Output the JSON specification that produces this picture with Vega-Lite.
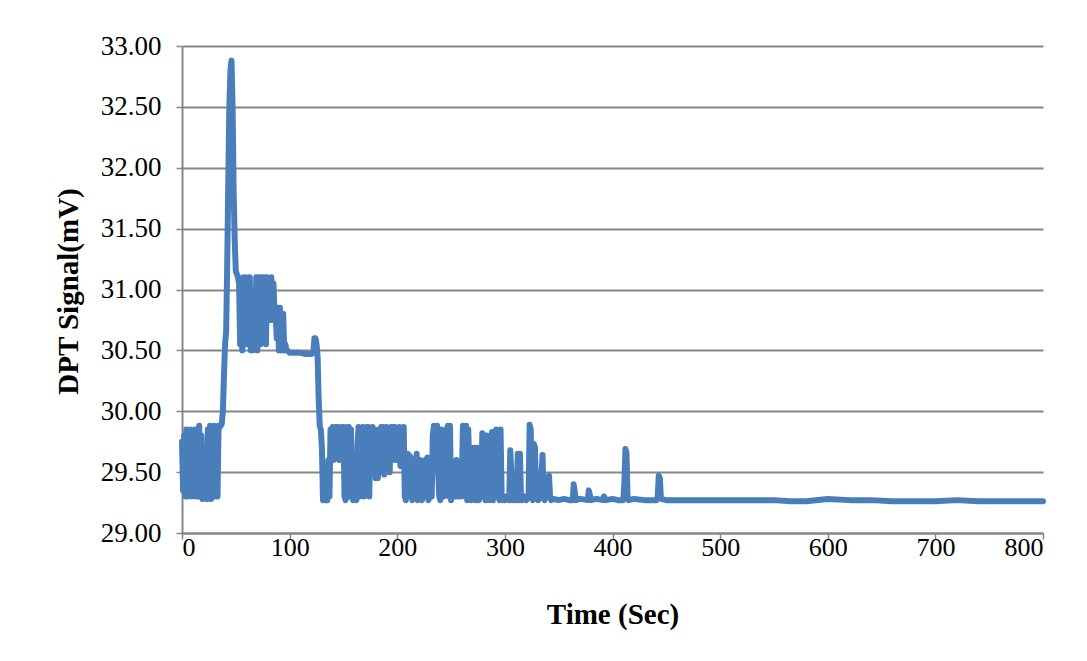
{
  "$schema": "https://vega.github.io/schema/vega-lite/v6.json",
  "width": 861,
  "height": 487,
  "autosize": "none",
  "padding": {"left": 182, "top": 46, "right": 44, "bottom": 128},
  "background": "white",
  "config": {
    "view": {"stroke": null},
    "font": "Liberation Serif"
  },
  "data": {
    "values": [
      {"t":0,"v":29.75},{"t":1,"v":29.35},{"t":2,"v":29.8},{"t":3,"v":29.3},{"t":4,"v":29.85},{"t":5,"v":29.3},{"t":6,"v":29.7},{"t":7,"v":29.35},{"t":8,"v":29.85},{"t":9,"v":29.3},
      {"t":10,"v":29.8},{"t":11,"v":29.4},{"t":12,"v":29.85},{"t":13,"v":29.3},{"t":14,"v":29.6},{"t":15,"v":29.3},{"t":16,"v":29.88},{"t":17,"v":29.3},{"t":18,"v":29.8},{"t":19,"v":29.28},
      {"t":20,"v":29.7},{"t":21,"v":29.35},{"t":22,"v":29.5},{"t":23,"v":29.28},{"t":24,"v":29.85},{"t":25,"v":29.3},{"t":26,"v":29.88},{"t":27,"v":29.28},{"t":28,"v":29.8},{"t":29,"v":29.35},
      {"t":30,"v":29.88},{"t":31,"v":29.3},{"t":32,"v":29.85},{"t":33,"v":29.3},{"t":34,"v":29.88},{"t":35,"v":29.87},{"t":36,"v":29.88},{"t":37,"v":29.9},{"t":38,"v":30.0},{"t":39,"v":30.3},
      {"t":40,"v":30.55},{"t":41,"v":30.65},{"t":42,"v":31.2},{"t":43,"v":31.9},{"t":44,"v":32.5},{"t":45,"v":32.8},{"t":46,"v":32.88},{"t":47,"v":32.5},{"t":48,"v":31.8},{"t":49,"v":31.4},
      {"t":50,"v":31.15},{"t":52,"v":31.1},{"t":53,"v":31.05},{"t":54,"v":30.55},{"t":55,"v":31.05},{"t":56,"v":30.5},{"t":57,"v":31.1},{"t":58,"v":30.6},{"t":59,"v":31.1},{"t":60,"v":30.55},
      {"t":61,"v":31.05},{"t":62,"v":31.1},{"t":63,"v":31.1},{"t":64,"v":30.5},{"t":65,"v":30.8},{"t":66,"v":30.5},{"t":67,"v":30.8},{"t":68,"v":30.6},{"t":69,"v":31.1},{"t":70,"v":30.5},
      {"t":71,"v":30.8},{"t":72,"v":31.1},{"t":73,"v":30.55},{"t":74,"v":31.1},{"t":75,"v":31.1},{"t":76,"v":30.8},{"t":77,"v":31.1},{"t":78,"v":30.55},{"t":79,"v":31.1},{"t":80,"v":30.8},
      {"t":81,"v":31.05},{"t":82,"v":30.75},{"t":83,"v":31.1},{"t":84,"v":30.75},{"t":85,"v":31.05},{"t":86,"v":30.8},{"t":87,"v":30.8},{"t":88,"v":30.6},{"t":89,"v":30.85},{"t":90,"v":30.5},
      {"t":91,"v":30.85},{"t":92,"v":30.5},{"t":93,"v":30.8},{"t":94,"v":30.8},{"t":95,"v":30.5},{"t":96,"v":30.55},{"t":97,"v":30.5},{"t":98,"v":30.5},{"t":100,"v":30.48},{"t":105,"v":30.48},
      {"t":110,"v":30.48},{"t":115,"v":30.47},{"t":120,"v":30.47},{"t":122,"v":30.48},{"t":123,"v":30.6},{"t":124,"v":30.6},{"t":125,"v":30.55},{"t":126,"v":30.45},{"t":127,"v":30.1},{"t":128,"v":29.88},
      {"t":129,"v":29.85},{"t":130,"v":29.7},{"t":131,"v":29.27},{"t":132,"v":29.3},{"t":133,"v":29.27},{"t":134,"v":29.5},{"t":135,"v":29.27},{"t":136,"v":29.6},{"t":137,"v":29.3},{"t":138,"v":29.85},
      {"t":139,"v":29.7},{"t":140,"v":29.87},{"t":141,"v":29.6},{"t":142,"v":29.65},{"t":143,"v":29.87},{"t":144,"v":29.7},{"t":145,"v":29.87},{"t":146,"v":29.6},{"t":147,"v":29.85},{"t":148,"v":29.87},
      {"t":149,"v":29.8},{"t":150,"v":29.87},{"t":151,"v":29.3},{"t":152,"v":29.27},{"t":153,"v":29.87},{"t":154,"v":29.6},{"t":155,"v":29.87},{"t":156,"v":29.3},{"t":157,"v":29.85},{"t":158,"v":29.3},
      {"t":159,"v":29.27},{"t":160,"v":29.6},{"t":161,"v":29.3},{"t":162,"v":29.27},{"t":163,"v":29.7},{"t":164,"v":29.87},{"t":165,"v":29.3},{"t":166,"v":29.85},{"t":167,"v":29.4},{"t":168,"v":29.87},
      {"t":169,"v":29.3},{"t":170,"v":29.8},{"t":171,"v":29.87},{"t":172,"v":29.5},{"t":173,"v":29.87},{"t":174,"v":29.3},{"t":175,"v":29.85},{"t":176,"v":29.6},{"t":177,"v":29.87},{"t":178,"v":29.5},
      {"t":179,"v":29.85},{"t":180,"v":29.45},{"t":181,"v":29.5},{"t":182,"v":29.45},{"t":183,"v":29.85},{"t":184,"v":29.6},{"t":185,"v":29.87},{"t":186,"v":29.5},{"t":187,"v":29.87},{"t":188,"v":29.48},
      {"t":189,"v":29.55},{"t":190,"v":29.87},{"t":191,"v":29.7},{"t":192,"v":29.85},{"t":193,"v":29.5},{"t":194,"v":29.87},{"t":195,"v":29.6},{"t":196,"v":29.87},{"t":197,"v":29.7},{"t":198,"v":29.87},
      {"t":199,"v":29.6},{"t":200,"v":29.85},{"t":201,"v":29.7},{"t":202,"v":29.87},{"t":203,"v":29.55},{"t":204,"v":29.85},{"t":205,"v":29.6},{"t":206,"v":29.87},{"t":207,"v":29.3},{"t":208,"v":29.27},
      {"t":209,"v":29.6},{"t":210,"v":29.65},{"t":211,"v":29.3},{"t":212,"v":29.63},{"t":213,"v":29.6},{"t":214,"v":29.27},{"t":215,"v":29.3},{"t":216,"v":29.6},{"t":217,"v":29.3},{"t":218,"v":29.65},
      {"t":219,"v":29.27},{"t":220,"v":29.3},{"t":221,"v":29.6},{"t":222,"v":29.3},{"t":223,"v":29.27},{"t":224,"v":29.45},{"t":225,"v":29.3},{"t":226,"v":29.6},{"t":227,"v":29.3},{"t":228,"v":29.62},
      {"t":229,"v":29.27},{"t":230,"v":29.3},{"t":231,"v":29.5},{"t":232,"v":29.3},{"t":233,"v":29.8},{"t":234,"v":29.88},{"t":235,"v":29.87},{"t":236,"v":29.6},{"t":237,"v":29.88},{"t":238,"v":29.5},
      {"t":239,"v":29.3},{"t":240,"v":29.27},{"t":241,"v":29.85},{"t":242,"v":29.5},{"t":243,"v":29.3},{"t":244,"v":29.8},{"t":245,"v":29.5},{"t":246,"v":29.85},{"t":247,"v":29.88},{"t":248,"v":29.3},
      {"t":249,"v":29.88},{"t":250,"v":29.27},{"t":251,"v":29.5},{"t":252,"v":29.3},{"t":253,"v":29.55},{"t":254,"v":29.3},{"t":255,"v":29.6},{"t":256,"v":29.45},{"t":257,"v":29.3},{"t":258,"v":29.5},
      {"t":259,"v":29.3},{"t":260,"v":29.4},{"t":261,"v":29.88},{"t":262,"v":29.87},{"t":263,"v":29.3},{"t":264,"v":29.88},{"t":265,"v":29.27},{"t":266,"v":29.85},{"t":267,"v":29.5},{"t":268,"v":29.3},
      {"t":269,"v":29.27},{"t":270,"v":29.3},{"t":271,"v":29.7},{"t":272,"v":29.5},{"t":273,"v":29.27},{"t":274,"v":29.7},{"t":275,"v":29.3},{"t":276,"v":29.27},{"t":277,"v":29.55},{"t":278,"v":29.3},
      {"t":279,"v":29.82},{"t":280,"v":29.3},{"t":281,"v":29.5},{"t":282,"v":29.27},{"t":283,"v":29.8},{"t":284,"v":29.3},{"t":285,"v":29.6},{"t":286,"v":29.27},{"t":287,"v":29.3},{"t":288,"v":29.83},
      {"t":289,"v":29.27},{"t":290,"v":29.8},{"t":291,"v":29.3},{"t":292,"v":29.85},{"t":293,"v":29.6},{"t":294,"v":29.3},{"t":295,"v":29.27},{"t":296,"v":29.85},{"t":297,"v":29.3},{"t":298,"v":29.27},
      {"t":299,"v":29.3},{"t":300,"v":29.27},{"t":302,"v":29.3},{"t":304,"v":29.27},{"t":305,"v":29.68},{"t":306,"v":29.5},{"t":307,"v":29.27},{"t":308,"v":29.3},{"t":310,"v":29.27},{"t":311,"v":29.3},
      {"t":312,"v":29.65},{"t":313,"v":29.27},{"t":314,"v":29.65},{"t":315,"v":29.3},{"t":316,"v":29.27},{"t":318,"v":29.3},{"t":320,"v":29.27},{"t":322,"v":29.3},{"t":323,"v":29.89},{"t":324,"v":29.85},
      {"t":325,"v":29.3},{"t":326,"v":29.27},{"t":327,"v":29.73},{"t":328,"v":29.7},{"t":329,"v":29.3},{"t":330,"v":29.5},{"t":331,"v":29.27},{"t":333,"v":29.3},{"t":335,"v":29.64},{"t":336,"v":29.3},
      {"t":337,"v":29.27},{"t":338,"v":29.4},{"t":340,"v":29.3},{"t":341,"v":29.47},{"t":342,"v":29.3},{"t":343,"v":29.27},{"t":345,"v":29.28},{"t":350,"v":29.27},{"t":355,"v":29.28},{"t":360,"v":29.27},
      {"t":363,"v":29.27},{"t":364,"v":29.4},{"t":366,"v":29.27},{"t":370,"v":29.28},{"t":377,"v":29.27},{"t":378,"v":29.35},{"t":380,"v":29.27},{"t":385,"v":29.28},{"t":391,"v":29.27},{"t":392,"v":29.3},
      {"t":394,"v":29.27},{"t":400,"v":29.28},{"t":405,"v":29.27},{"t":410,"v":29.27},{"t":411,"v":29.4},{"t":412,"v":29.69},{"t":413,"v":29.66},{"t":414,"v":29.3},{"t":415,"v":29.27},{"t":420,"v":29.28},
      {"t":430,"v":29.27},{"t":441,"v":29.27},{"t":442,"v":29.3},{"t":443,"v":29.47},{"t":444,"v":29.45},{"t":445,"v":29.28},{"t":450,"v":29.27},{"t":470,"v":29.27},{"t":490,"v":29.27},{"t":510,"v":29.27},
      {"t":530,"v":29.27},{"t":550,"v":29.27},{"t":565,"v":29.26},{"t":580,"v":29.26},{"t":600,"v":29.28},{"t":620,"v":29.27},{"t":640,"v":29.27},{"t":660,"v":29.26},{"t":680,"v":29.26},{"t":700,"v":29.26},
      {"t":720,"v":29.27},{"t":740,"v":29.26},{"t":760,"v":29.26},{"t":780,"v":29.26},{"t":800,"v":29.26}
    ]
  },
  "mark": {"type": "line", "color": "#4A7EBB", "strokeWidth": 6, "strokeCap": "round", "strokeJoin": "round"},
  "encoding": {
    "x": {
      "field": "t", "type": "quantitative",
      "scale": {"domain": [0, 800], "nice": false},
      "axis": {
        "title": "Time (Sec)",
        "values": [0,100,200,300,400,500,600,700,800],
        "grid": false,
        "domainColor": "#868686", "domainWidth": 2,
        "tickColor": "#868686", "tickWidth": 1.5, "tickSize": 6,
        "labelFont": "Liberation Serif", "labelFontSize": 26, "labelColor": "black", "labelPadding": -5,
        "titleFont": "Liberation Serif", "titleFontSize": 29, "titleFontWeight": "bold", "titleColor": "black",
        "titleBaseline": "middle", "titleY": 81
      }
    },
    "y": {
      "field": "v", "type": "quantitative",
      "scale": {"domain": [29, 33], "nice": false, "zero": false},
      "axis": {
        "title": "DPT Signal(mV)",
        "values": [29,29.5,30,30.5,31,31.5,32,32.5,33],
        "format": ".2f",
        "grid": true, "gridColor": "#868686", "gridWidth": 2,
        "domainColor": "#868686", "domainWidth": 2,
        "tickColor": "#868686", "tickWidth": 1.5, "tickSize": 6,
        "labelFont": "Liberation Serif", "labelFontSize": 27, "labelColor": "black", "labelPadding": 15,
        "titleFont": "Liberation Serif", "titleFontSize": 29, "titleFontWeight": "bold", "titleColor": "black",
        "titleBaseline": "middle", "titleX": -114, "titleY": 245
      }
    }
  }
}
